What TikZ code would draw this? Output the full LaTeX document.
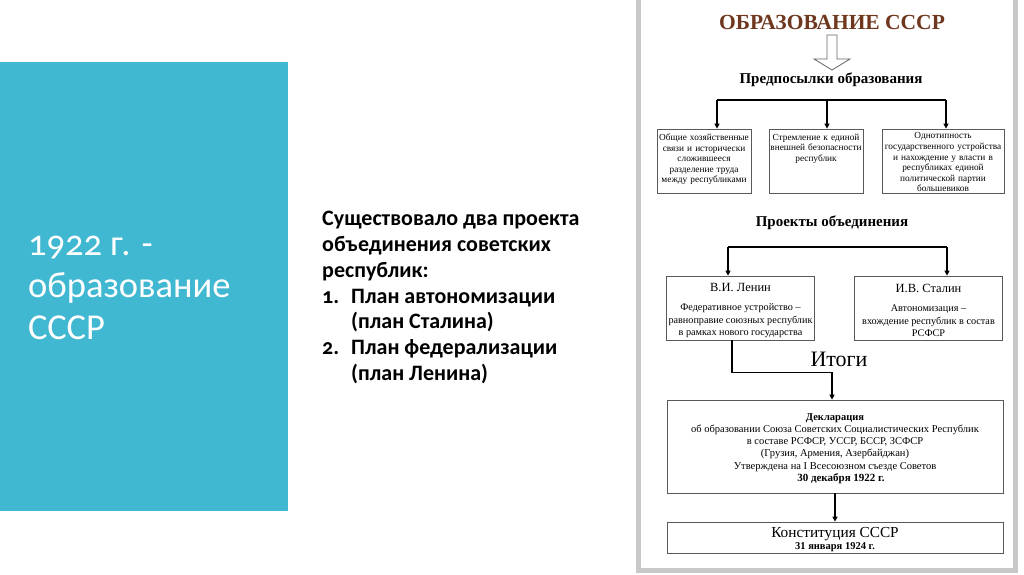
\documentclass[tikz,border=0pt]{standalone}
\usepackage{fontspec}
\setmainfont{Liberation Serif}
\newfontfamily\slidefont[Numbers=OldStyle]{Carlito}
\usetikzlibrary{arrows.meta}
\definecolor{slideblue}{RGB}{64,184,210}
\definecolor{titlebrown}{RGB}{110,55,30}
\definecolor{framegray}{RGB}{200,200,200}

\begin{document}
\begin{tikzpicture}[x=1pt, y=-1pt,
  box/.style={draw=black!65, line width=0.8pt, inner sep=0pt},
  boxtext/.style={align=center, inner xsep=3pt, inner ysep=5pt,
    font=\fontsize{9.3}{10.6}\selectfont},
  heading/.style={font=\fontsize{15}{17}\selectfont\bfseries},
  plan/.style={box, align=center, minimum width=148, minimum height=64,
    font=\fontsize{10.2}{12.3}\selectfont},
  result/.style={box, align=center, minimum width=336,
    font=\fontsize{10.5}{12.2}\selectfont},
  flow/.style={-{Triangle[length=5pt,width=5pt]}, line width=1.2pt}
]
  \useasboundingbox (0,0) rectangle (1024,574);
  \fill[white] (0,0) rectangle (1024,574);

  % slide, left part
  \fill[slideblue] (0,62) rectangle (288,511);
  \node[anchor=north west, align=left, inner sep=0pt, text=white,
    font=\slidefont\fontsize{36.5}{42}\selectfont] (slidetitle) at (28,236)
    {1922 г. -\\образование\\СССР};
  \node[anchor=north west, align=left, inner sep=0pt,
    font=\slidefont\bfseries\fontsize{22}{25.8}\selectfont] (summary) at (322,211)
    {Существовало два проекта\\объединения советских\\республик:\\
     \makebox[29pt][l]{1.}План автономизации\\\hspace*{29pt}(план Сталина)\\
     \makebox[29pt][l]{2.}План федерализации\\\hspace*{29pt}(план Ленина)};

  % scheme, right part
  \draw[framegray, line width=5pt, fill=white] (638.5,-10) rectangle (1015,570.5);
  \node[font=\fontsize{21.5}{23}\selectfont\bfseries, text=titlebrown] (title)
    at (832,22) {ОБРАЗОВАНИЕ СССР};
  \draw[black!60, line width=0.8pt, fill=white] (827,35) -- (837,35) -- (837,59)
    -- (850,59) -- (832,70) -- (814,59) -- (827,59) -- cycle;
  \node[heading] (prereq) at (831,80) {Предпосылки образования};

  \node[box, minimum width=94, minimum height=64] (p1) at (704,161) {};
  \node[box, minimum width=94, minimum height=64] (p2) at (816,161) {};
  \node[box, minimum width=122, minimum height=64] (p3) at (943,161) {};
  \node[boxtext, anchor=north, text width=92] (p1text) at (p1.north)
    {Общие хозяйственные\\связи и исторически\\сложившееся\\разделение труда\\между республиками};
  \node[boxtext, anchor=north, text width=92] (p2text) at (p2.north)
    {Стремление к единой\\внешней безопасности\\республик};
  \node[boxtext, anchor=north, text width=120, inner ysep=4pt] (p3text) at (p3.north)
    {Однотипность\\государственного устройства\\и нахождение у власти в\\республиках единой\\политической партии\\большевиков};

  \coordinate (barA) at (717,100);
  \coordinate (barB) at (827,100);
  \coordinate (barC) at (946,100);
  \draw[line width=1.2pt] (barA) -- (barC);
  \draw[flow] (barA) -- (barA |- p1.north);
  \draw[flow] (barB) -- (barB |- p2.north);
  \draw[flow] (barC) -- (barC |- p3.north);

  \node[heading] (projects) at (832,223) {Проекты объединения};
  \node[plan] (lenin) at (740.5,308)
    {\rule{0pt}{13pt}{\fontsize{12.5}{14}\selectfont В.И. Ленин}\\[7pt]Федеративное устройство –\\равноправие союзных республик\\в рамках нового государства};
  \node[plan] (stalin) at (928.5,308)
    {\rule{0pt}{13pt}{\fontsize{12.5}{14}\selectfont И.В. Сталин}\\[7pt]Автономизация –\\вхождение республик в состав\\РСФСР};
  \coordinate (barL) at (728,247);
  \coordinate (barR) at (947,247);
  \draw[line width=1.2pt] (barL) -- (barR);
  \draw[flow] (barL) -- (barL |- lenin.north);
  \draw[flow] (barR) -- (barR |- stalin.north);

  \node[font=\fontsize{22}{24}\selectfont] (results) at (839,359) {Итоги};
  \node[result, minimum height=93] (decl) at (835,446.5)
    {\rule{0pt}{11pt}\textbf{Декларация}\\об образовании Союза Советских Социалистических Республик\\в составе РСФСР, УССР, БССР, ЗСФСР\\(Грузия, Армения, Азербайджан)\\Утверждена на I Всесоюзном съезде Советов\\\hspace*{12pt}\textbf{\fontsize{11}{12.2}\selectfont 30 декабря 1922 г.}};
  \node[result, minimum height=31] (constitution) at (835,537.5)
    {\rule{0pt}{15pt}{\fontsize{15.3}{16}\selectfont Конституция СССР}\\\textbf{31 января 1924 г.}};

  \draw[flow] ([xshift=-8.5pt]lenin.south) -- ++(0,32) -| ([xshift=-3pt]decl.north);
  \draw[flow] (decl.south) -- (constitution.north);
\end{tikzpicture}
\end{document}
